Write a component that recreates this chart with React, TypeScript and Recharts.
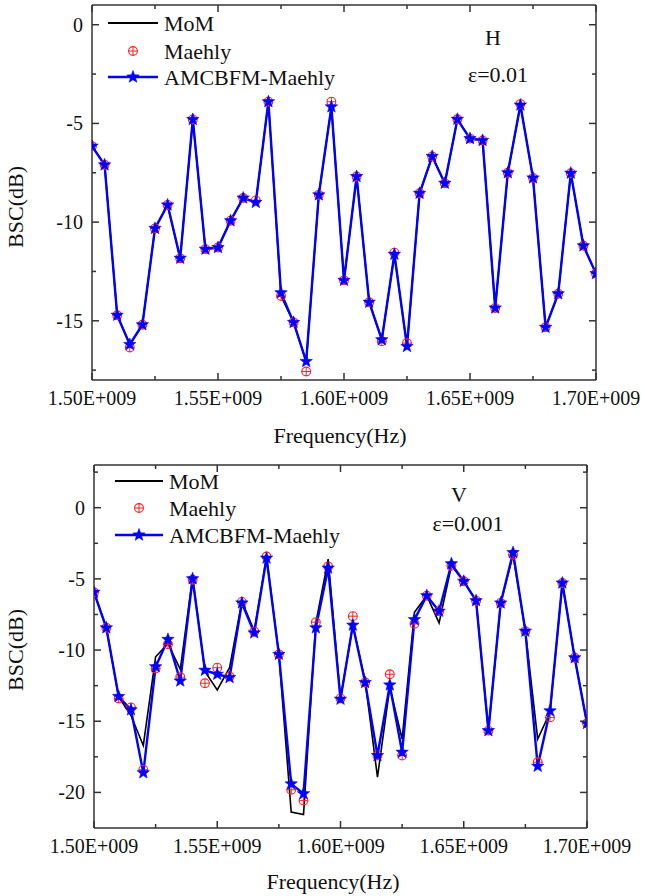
import React from 'react';
import { LineChart, Line, XAxis, YAxis } from 'recharts';

const FONT = '"Liberation Serif", "Times New Roman", serif';

// frequency in MHz
const FREQ_MHZ = [
  1500, 1505, 1510, 1515, 1520, 1525, 1530, 1535, 1540, 1545, 1550,
  1555, 1560, 1565, 1570, 1575, 1580, 1585, 1590, 1595, 1600,
  1605, 1610, 1615, 1620, 1625, 1630, 1635, 1640, 1645, 1650,
  1655, 1660, 1665, 1670, 1675, 1680, 1685, 1690, 1695, 1700,
];

// Panel H (eps = 0.01)
const H_MOM = [
  -6.15, -7.1, -14.72, -16.2, -15.2, -10.32, -9.13, -11.83, -4.8, -11.37, -11.29,
  -9.93, -8.78, -9.0, -3.9, -13.75, -15.08, -17.1, -8.62, -4.16, -12.95,
  -7.69, -14.06, -15.96, -11.63, -16.3, -8.54, -6.67, -8.03, -4.79, -5.77,
  -5.86, -14.35, -7.5, -4.07, -7.76, -15.33, -13.63, -7.52, -11.2, -12.61,
];
const H_MAEHLY = [
  -6.15, -7.1, -14.72, -16.35, -15.2, -10.32, -9.13, -11.83, -4.8, -11.37, -11.29,
  -9.93, -8.78, -8.9, -3.9, -13.75, -15.08, -17.57, -8.62, -3.9, -12.95,
  -7.69, -14.06, -16.04, -11.55, -16.13, -8.54, -6.67, -8.03, -4.79, -5.77,
  -5.86, -14.35, -7.5, -4.02, -7.76, -15.33, -13.63, -7.52, -11.2, -12.61,
];
const H_AMC = [
  -6.15, -7.1, -14.72, -16.2, -15.2, -10.32, -9.13, -11.83, -4.8, -11.37, -11.29,
  -9.93, -8.78, -9.0, -3.9, -13.58, -15.08, -17.06, -8.62, -4.16, -12.95,
  -7.69, -14.06, -15.96, -11.63, -16.3, -8.54, -6.67, -8.03, -4.79, -5.77,
  -5.86, -14.35, -7.5, -4.07, -7.76, -15.33, -13.63, -7.52, -11.2, -12.61,
];

// Panel V (eps = 0.001)
const V_MOM = [
  -5.94, -8.44, -13.3, -14.6, -16.7, -10.47, -9.55, -11.35, -4.9, -11.5, -12.8,
  -11.24, -6.57, -8.67, -3.43, -10.3, -21.38, -21.56, -8.09, -3.61, -13.4,
  -8.25, -12.17, -18.93, -12.63, -16.25, -7.34, -6.18, -8.09, -4.08, -5.17,
  -6.53, -15.66, -6.69, -3.31, -8.67, -16.25, -14.38, -5.29, -10.54, -15.15,
];
const V_MAEHLY = [
  -5.94, -8.44, -13.4, -14.03, -18.4, -11.3, -9.6, -11.9, -5.06, -12.33, -11.24,
  -11.86, -6.62, -8.7, -3.43, -10.3, -19.81, -20.56, -8.04, -4.13, -13.4,
  -7.62, -12.28, -17.41, -11.7, -17.41, -8.16, -6.18, -7.27, -4.08, -5.17,
  -6.53, -15.66, -6.69, -3.31, -8.67, -17.88, -14.73, -5.29, -10.54, -15.15,
];
const V_AMC = [
  -5.94, -8.44, -13.26, -14.2, -18.62, -11.17, -9.25, -12.17, -4.99, -11.42, -11.7,
  -11.93, -6.69, -8.79, -3.54, -10.3, -19.4, -20.09, -8.44, -4.24, -13.45,
  -8.25, -12.28, -17.41, -12.45, -17.18, -7.86, -6.18, -7.27, -3.94, -5.17,
  -6.53, -15.66, -6.69, -3.15, -8.67, -18.16, -14.27, -5.29, -10.54, -15.15,
];

const X_TICKS = [1500, 1525, 1550, 1575, 1600, 1625, 1650, 1675, 1700];
const Y_TICKS_H = [-17.5, -15, -12.5, -10, -7.5, -5, -2.5, 0];
const Y_TICKS_V = [-20, -17.5, -15, -12.5, -10, -7.5, -5, -2.5, 0, 2.5];
const Y_DOMAIN_H: [number, number] = [-18, 1];
const Y_DOMAIN_V: [number, number] = [-22.5, 3];

const SERIES_NAMES = ['MoM', 'Maehly', 'AMCBFM-Maehly'];

const BLUE = '#0000ff';
const RED = '#ff2020';
const AXIS = '#333';

const xLabel = (v: number) => (v / 1000).toFixed(2) + 'E+009';
const isMajorX = (v: number) => Math.abs(v % 50) < 1e-6;
const isMajorY = (v: number) => Math.abs(v % 5) < 1e-6;

const BottomTick = (props: any) => {
  const { x, y, payload } = props;
  const v = payload.value;
  const major = isMajorX(v);
  const len = major ? 7 : 4;
  return (
    <g>
      <line x1={x} y1={y} x2={x} y2={y - len} stroke={AXIS} strokeWidth={1.5} />
      {major && (
        <text x={x} y={y + 25} textAnchor="middle" fontFamily={FONT} fontSize={20} fill="#111">
          {xLabel(v)}
        </text>
      )}
    </g>
  );
};

const TopTick = (props: any) => {
  const { x, y, payload } = props;
  const len = isMajorX(payload.value) ? 7 : 4;
  return <line x1={x} y1={y} x2={x} y2={y + len} stroke={AXIS} strokeWidth={1.5} />;
};

const LeftTick = (props: any) => {
  const { x, y, payload } = props;
  const v = payload.value;
  const major = isMajorY(v);
  const len = major ? 7 : 4;
  return (
    <g>
      <line x1={x} y1={y} x2={x + len} y2={y} stroke={AXIS} strokeWidth={1.5} />
      {major && (
        <text x={x - 9} y={y + 7} textAnchor="end" fontFamily={FONT} fontSize={20} fill="#111">
          {String(v)}
        </text>
      )}
    </g>
  );
};

const RightTick = (props: any) => {
  const { x, y, payload } = props;
  const len = isMajorY(payload.value) ? 7 : 4;
  return <line x1={x} y1={y} x2={x - len} y2={y} stroke={AXIS} strokeWidth={1.5} />;
};

const starPoints = (cx: number, cy: number, ro: number, ri: number) => {
  const pts: string[] = [];
  for (let k = 0; k < 10; k++) {
    const r = k % 2 === 0 ? ro : ri;
    const a = -Math.PI / 2 + (k * Math.PI) / 5;
    pts.push(`${cx + r * Math.cos(a)},${cy + r * Math.sin(a)}`);
  }
  return pts.join(' ');
};

const StarMark = ({ cx, cy }: { cx: number; cy: number }) => (
  <polygon points={starPoints(cx, cy, 6.5, 2.7)} fill={BLUE} stroke={BLUE} strokeWidth={0.6} />
);

const CirclePlus = ({ cx, cy }: { cx: number; cy: number }) => (
  <g>
    <circle cx={cx} cy={cy} r={4.4} fill="none" stroke={RED} strokeWidth={1.1} />
    <line x1={cx - 4.4} y1={cy} x2={cx + 4.4} y2={cy} stroke={RED} strokeWidth={1} />
    <line x1={cx} y1={cy - 4.4} x2={cx} y2={cy + 4.4} stroke={RED} strokeWidth={1} />
  </g>
);

const starDot = (props: any) => {
  const { cx, cy, index } = props;
  if (cx == null || cy == null) return <g key={`s${index}`} />;
  return (
    <g key={`s${index}`}>
      <StarMark cx={cx} cy={cy} />
    </g>
  );
};

const circleDot = (props: any) => {
  const { cx, cy, index } = props;
  if (cx == null || cy == null) return <g key={`c${index}`} />;
  return (
    <g key={`c${index}`}>
      <CirclePlus cx={cx} cy={cy} />
    </g>
  );
};

type PanelProps = {
  top: number;
  height: number;
  margin: { top: number; right: number; bottom: number; left: number };
  bottomAxisHeight: number;
  mom: number[];
  maehly: number[];
  amc: number[];
  yDomain: [number, number];
  yTicks: number[];
};

const Panel = (p: PanelProps) => {
  const data = FREQ_MHZ.map((f, i) => ({
    f,
    mom: p.mom[i],
    maehly: p.maehly[i],
    amc: p.amc[i],
  }));
  const axisLine = { stroke: AXIS, strokeWidth: 1.5 };
  return (
    <div style={{ position: 'absolute', left: 0, top: p.top }}>
      <LineChart width={645} height={p.height} data={data} margin={p.margin}>
        <XAxis
          xAxisId="b"
          dataKey="f"
          type="number"
          domain={[1500, 1700]}
          allowDataOverflow
          ticks={X_TICKS}
          interval={0}
          tickLine={false}
          tickSize={0}
          tickMargin={0}
          tick={BottomTick}
          axisLine={axisLine}
          height={p.bottomAxisHeight}
        />
        <XAxis
          xAxisId="t"
          orientation="top"
          dataKey="f"
          type="number"
          domain={[1500, 1700]}
          allowDataOverflow
          ticks={X_TICKS}
          interval={0}
          tickLine={false}
          tickSize={0}
          tickMargin={0}
          tick={TopTick}
          axisLine={axisLine}
          height={1}
        />
        <YAxis
          yAxisId="l"
          type="number"
          domain={p.yDomain}
          allowDataOverflow
          ticks={p.yTicks}
          interval={0}
          tickLine={false}
          tickSize={0}
          tickMargin={0}
          tick={LeftTick}
          axisLine={axisLine}
          width={60}
        />
        <YAxis
          yAxisId="r"
          orientation="right"
          type="number"
          domain={p.yDomain}
          allowDataOverflow
          ticks={p.yTicks}
          interval={0}
          tickLine={false}
          tickSize={0}
          tickMargin={0}
          tick={RightTick}
          axisLine={axisLine}
          width={1}
        />
        <Line
          xAxisId="b"
          yAxisId="l"
          type="linear"
          dataKey="mom"
          name={SERIES_NAMES[0]}
          stroke="#000"
          strokeWidth={1.6}
          dot={false}
          isAnimationActive={false}
        />
        <Line
          xAxisId="b"
          yAxisId="l"
          type="linear"
          dataKey="maehly"
          name={SERIES_NAMES[1]}
          stroke="none"
          strokeWidth={0}
          dot={circleDot}
          isAnimationActive={false}
        />
        <Line
          xAxisId="b"
          yAxisId="l"
          type="linear"
          dataKey="amc"
          name={SERIES_NAMES[2]}
          stroke={BLUE}
          strokeWidth={2.4}
          dot={starDot}
          isAnimationActive={false}
        />
      </LineChart>
    </div>
  );
};

const Legend = ({ x0, x1, textX, ys }: { x0: number; x1: number; textX: number; ys: number[] }) => {
  const mx = (x0 + x1) / 2;
  return (
    <g fontFamily={FONT} fontSize={22} fill="#111">
      <line x1={x0} y1={ys[0]} x2={x1} y2={ys[0]} stroke="#000" strokeWidth={1.8} />
      <text x={textX} y={ys[0] + 7.5}>{SERIES_NAMES[0]}</text>
      <CirclePlus cx={mx} cy={ys[1]} />
      <text x={textX} y={ys[1] + 7.5}>{SERIES_NAMES[1]}</text>
      <line x1={x0} y1={ys[2]} x2={x1} y2={ys[2]} stroke={BLUE} strokeWidth={2.4} />
      <StarMark cx={mx} cy={ys[2]} />
      <text x={textX} y={ys[2] + 7.5}>{SERIES_NAMES[2]}</text>
    </g>
  );
};

export default function App() {
  return (
    <div style={{ position: 'absolute', left: 0, top: 0, width: 645, height: 896, background: '#fff' }}>
      <Panel
        top={0}
        height={450}
        margin={{ top: 4, right: 48, bottom: 0, left: 32 }}
        bottomAxisHeight={70}
        mom={H_MOM}
        maehly={H_MAEHLY}
        amc={H_AMC}
        yDomain={Y_DOMAIN_H}
        yTicks={Y_TICKS_H}
      />
      <Panel
        top={450}
        height={446}
        margin={{ top: 14, right: 57, bottom: 0, left: 34 }}
        bottomAxisHeight={68}
        mom={V_MOM}
        maehly={V_MAEHLY}
        amc={V_AMC}
        yDomain={Y_DOMAIN_V}
        yTicks={Y_TICKS_V}
      />
      <svg
        width={645}
        height={896}
        style={{ position: 'absolute', left: 0, top: 0, pointerEvents: 'none' }}
      >
        <Legend x0={108} x1={158} textX={164} ys={[23, 51, 77]} />
        <Legend x0={115} x1={163} textX={169} ys={[481, 508, 535]} />
        <g fontFamily={FONT} fontSize={22} fill="#111" textAnchor="middle">
          <text x={493} y={44.5}>H</text>
          <text x={498} y={82}>ε=0.01</text>
          <text x={459} y={502}>V</text>
          <text x={468} y={531}>ε=0.001</text>
          <text x={340} y={443}>Frequency(Hz)</text>
          <text x={333} y={889}>Frequency(Hz)</text>
          <text transform="translate(23,207) rotate(-90)">BSC(dB)</text>
          <text transform="translate(23,650) rotate(-90)">BSC(dB)</text>
        </g>
      </svg>
    </div>
  );
}
